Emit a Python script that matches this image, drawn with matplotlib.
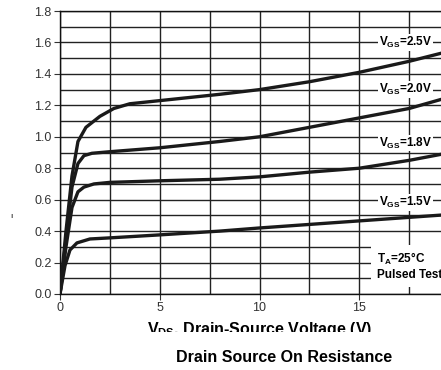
import matplotlib
matplotlib.use("Agg")
from matplotlib import pyplot as plt
from matplotlib.patches import Rectangle

plt.rcParams['font.family'] = ['Liberation Sans', 'DejaVu Sans']
plt.rcParams['mathtext.fontset'] = 'custom'
plt.rcParams['mathtext.rm'] = 'Liberation Sans'
plt.rcParams['mathtext.bf'] = 'Liberation Sans:bold'

# curves (V_DS, value)
vds_25 = [0, 0.3, 0.6, 0.9, 1.3, 2.0, 2.7, 3.5, 5, 8, 10, 12.5, 15, 17.5, 20]
val_25 = [0, 0.40, 0.75, 0.97, 1.06, 1.13, 1.18, 1.21, 1.23, 1.27, 1.30, 1.35, 1.41, 1.48, 1.56]
vds_20 = [0, 0.3, 0.6, 0.9, 1.2, 1.6, 2.5, 5, 8, 10, 12.5, 15, 17.5, 20]
val_20 = [0, 0.35, 0.68, 0.83, 0.88, 0.895, 0.905, 0.93, 0.97, 1.00, 1.06, 1.12, 1.18, 1.27]
vds_18 = [0, 0.3, 0.6, 0.9, 1.2, 1.7, 2.5, 5, 8, 10, 12.5, 15, 17.5, 20]
val_18 = [0, 0.30, 0.55, 0.65, 0.68, 0.70, 0.71, 0.72, 0.73, 0.745, 0.775, 0.80, 0.85, 0.91]
vds_15 = [0, 0.25, 0.5, 0.85, 1.5, 2.5, 5, 8, 10, 15, 20]
val_15 = [0, 0.18, 0.28, 0.325, 0.35, 0.357, 0.376, 0.40, 0.42, 0.465, 0.51]

curve_labels = [r'$\mathbf{V_{GS}}$=2.5V', r'$\mathbf{V_{GS}}$=2.0V',
                r'$\mathbf{V_{GS}}$=1.8V', r'$\mathbf{V_{GS}}$=1.5V']
label_y = [1.6, 1.3, 0.96, 0.58]

xticks = [0, 5, 10, 15, 20]
yticks = [0.0, 0.2, 0.4, 0.6, 0.8, 1.0, 1.2, 1.4, 1.6, 1.8]

fig = plt.figure(figsize=(4.41, 3.70), dpi=100)
# axes runs past the right edge of the picture, as in the original crop
ax = fig.add_axes([60/441, 1-294/370, 399/441, 283/370])
ax.set_xlim(0, 20)
ax.set_ylim(0, 1.8)
ax.set_axisbelow(True)

ax.set_xticks(xticks)
ax.set_xticks([2.5, 7.5, 12.5, 17.5], minor=True)
ax.set_yticks(yticks)
ax.set_yticklabels(['%.1f' % v for v in yticks])
ax.set_yticks([0.1, 0.3, 0.5, 0.7, 0.9, 1.1, 1.3, 1.5, 1.7], minor=True)
ax.tick_params(which='major', length=4, width=0.8, color='#333333',
               labelsize=9, labelcolor='#333333', pad=2)
ax.tick_params(which='minor', length=0)
ax.grid(which='both', color='#222222', linewidth=1.0)
for s in ax.spines.values():
    s.set_color('#111111')
    s.set_linewidth(1.0)

# white area behind the test-condition note
ax.add_patch(Rectangle((15.6, 0.045), 5, 0.265, facecolor='white',
                       edgecolor='none', zorder=1))

for xs, ys in [(vds_25, val_25), (vds_20, val_20), (vds_18, val_18), (vds_15, val_15)]:
    ax.plot(xs, ys, color='#1a1a1a', linewidth=2.4, solid_capstyle='round', zorder=3)

for lab, yy in zip(curve_labels, label_y):
    ax.text(16.0, yy, lab, fontsize=8.5, fontweight='bold', va='center', ha='left',
            zorder=4, bbox=dict(facecolor='white', edgecolor='none', pad=0.6))

ax.text(15.9, 0.22, r'T$_{\mathbf{A}}$=25°C', fontsize=8.5, fontweight='bold',
        va='center', ha='left', zorder=4)
ax.text(15.9, 0.12, 'Pulsed Test', fontsize=8.5, fontweight='bold',
        va='center', ha='left', zorder=4)

ax.set_xlabel(r'V$_{\mathbf{DS}}$, Drain-Source Voltage (V)', fontsize=11.5,
              fontweight='bold', labelpad=4)

# lower part of the x label is cut off in the original
fig.patches.append(Rectangle((0, 1-347/370), 1, 15/370, transform=fig.transFigure,
                             facecolor='white', edgecolor='none', zorder=10))

fig.text(0.025, 1-217/370, 'ı', fontsize=6, ha='center', va='center')
fig.text(284/441, 1-357/370, 'Drain Source On Resistance', fontsize=11.5,
         fontweight='bold', ha='center', va='center')

fig.savefig('out.png', dpi=100)
